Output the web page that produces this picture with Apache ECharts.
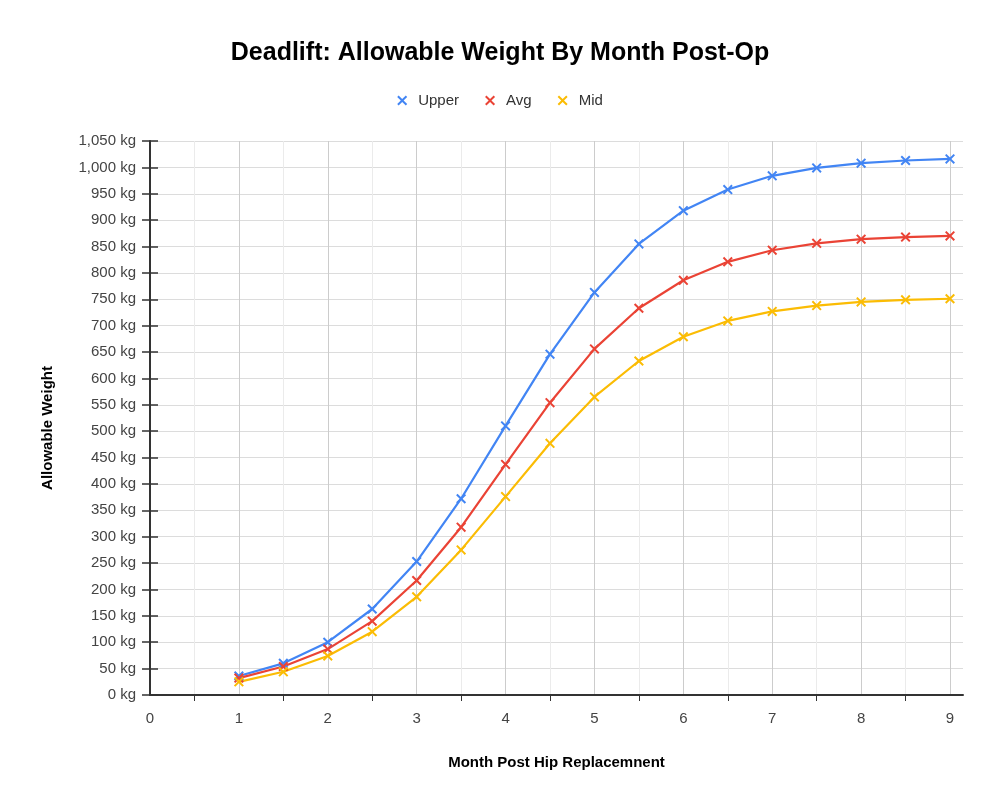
<!DOCTYPE html>
<html><head><meta charset="utf-8">
<script src="https://cdn.jsdelivr.net/npm/echarts@6/dist/echarts.min.js"></script>
<style>html,body{margin:0;padding:0;background:#fff}#c{width:1000px;height:800px}</style>
</head><body><div id="c"></div>
<script>
const months = [1, 1.5, 2, 2.5, 3, 3.5, 4, 4.5, 5, 5.5, 6, 6.5, 7, 7.5, 8, 8.5, 9];
const upper = [36, 60, 100, 163, 253, 372, 510, 646, 763, 855, 918, 958, 984, 999, 1008, 1013, 1016];
const avg = [32, 54, 87, 140, 217, 318, 437, 554, 656, 733, 786, 821, 843, 856, 864, 868, 870];
const mid = [25, 44, 74, 120, 186, 275, 376, 477, 565, 633, 679, 709, 727, 738, 745, 749, 751];
const seriesNames = ['Upper', 'Avg', 'Mid'];
const colors = ['#4285F4', '#EA4335', '#FBBC04'];

const X = 'path://M0,1.4 L1.4,0 L5,3.6 L8.6,0 L10,1.4 L6.4,5 L10,8.6 L8.6,10 L5,6.4 L1.4,10 L0,8.6 L3.6,5 Z';
const font = 'Arial, "Liberation Sans", sans-serif';
const pair = (xs, ys) => xs.map((x, i) => [x, ys[i]]);

const chart = echarts.init(document.getElementById('c'), null, {renderer: 'canvas'});
const mk = (name, data, color) => ({
  name, type: 'line', data: pair(months, data), xAxisIndex: 0, yAxisIndex: 0,
  symbol: X, symbolSize: 10, clip: false,
  lineStyle: {width: 2.2, color}, itemStyle: {color}
});
chart.setOption({
  animation: false,
  textStyle: {fontFamily: font},
  title: {text: 'Deadlift: Allowable Weight By Month Post-Op', left: 'center', top: 36,
    textStyle: {fontSize: 25, fontWeight: 'bold', color: '#000', fontFamily: font}},
  legend: {top: 88, left: 'center', itemWidth: 10, itemHeight: 10, itemGap: 26,
    textStyle: {fontSize: 15, color: '#333', fontFamily: font, padding: [0, 0, 0, 6]},
    data: seriesNames.map((n) => ({name: n, icon: X}))},
  grid: [
    {left: 150, right: 50, top: 141, bottom: 105, containLabel: false},
    {left: 950, right: 37, top: 141, bottom: 105, containLabel: false}
  ],
  xAxis: [
    {type: 'value', gridIndex: 0, min: 0, max: 9, interval: 1,
     name: 'Month Post Hip Replacemnent', nameLocation: 'middle', nameGap: 60,
     nameTextStyle: {fontSize: 15, fontWeight: 'bold', color: '#000', fontFamily: font, padding: [0, 0, 0, 13]},
     axisLine: {show: true, lineStyle: {color: '#333', width: 2}},
     axisTick: {show: false},
     minorTick: {show: true, splitNumber: 2, length: 6, lineStyle: {color: '#333'}},
     minorSplitLine: {show: true, lineStyle: {color: '#ebebeb', width: 1}},
     splitLine: {show: true, lineStyle: {color: '#cccccc', width: 1}},
     axisLabel: {fontSize: 15, color: '#444', margin: 16, fontFamily: font}},
    {type: 'value', gridIndex: 1, min: 0, max: 1, show: true,
     axisLine: {show: true, lineStyle: {color: '#333', width: 2}},
     axisTick: {show: false}, axisLabel: {show: false}, splitLine: {show: false}}
  ],
  yAxis: [
    {type: 'value', gridIndex: 0, min: 0, max: 1050, interval: 50,
     name: 'Allowable Weight', nameLocation: 'middle', nameGap: 95,
     nameTextStyle: {fontSize: 15, fontWeight: 'bold', color: '#000', fontFamily: font, padding: [0, 20, 0, 0]},
     axisLine: {show: true, lineStyle: {color: '#333', width: 2}},
     axisTick: {show: true, length: 8, lineStyle: {color: '#333', width: 1.5}},
     splitLine: {show: true, lineStyle: {color: '#dcdcdc', width: 1}},
     axisLabel: {fontSize: 15, color: '#444', margin: 14, fontFamily: font,
       formatter: (v) => v.toLocaleString('en-US') + ' kg'}},
    {type: 'value', gridIndex: 1, min: 0, max: 1050, interval: 50,
     axisLine: {show: false}, axisTick: {show: false}, axisLabel: {show: false},
     splitLine: {show: true, lineStyle: {color: '#dcdcdc', width: 1}}},
    {type: 'value', gridIndex: 0, min: 0, max: 1050, interval: 50, position: 'left',
     axisLine: {show: false}, axisLabel: {show: false}, splitLine: {show: false},
     axisTick: {show: true, inside: true, length: 8, lineStyle: {color: '#333', width: 1.5}}}
  ],
  series: [
    mk(seriesNames[0], upper, colors[0]),
    mk(seriesNames[1], avg, colors[1]),
    mk(seriesNames[2], mid, colors[2])
  ]
});
</script></body></html>
